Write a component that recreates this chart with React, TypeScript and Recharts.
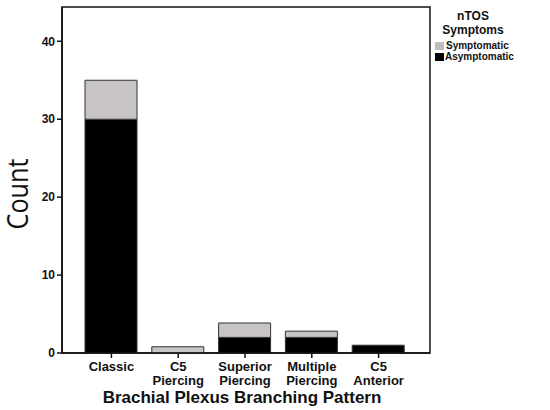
import React from 'react';
import * as RC from 'recharts';
import { BarChart, Bar, XAxis, YAxis, Legend } from 'recharts';

const categories = ['Classic', 'C5\nPiercing', 'Superior\nPiercing', 'Multiple\nPiercing', 'C5\nAnterior'];
const asymptomatic = [30, 0, 2, 2, 1];
const symptomatic = [5, 0.8, 1.85, 0.8, 0];
const yTicks = [0, 10, 20, 30, 40];

const data = categories.map((c, i) => ({ name: c, asym: asymptomatic[i], sym: symptomatic[i] }));

const FONT = '"Liberation Sans", Arial, sans-serif';
const SYM_COLOR = '#c8c4c3';

const XTick = (props: any) => {
  const { x, y, payload } = props;
  const lines = String(payload.value).split('\n');
  return (
    <g transform={`translate(${x},${y})`}>
      <text textAnchor="middle" fontFamily={FONT} fontWeight="bold" fontSize={13} fill="#111">
        {lines.map((l, i) => (
          <tspan key={i} x={0} dy={i === 0 ? 11 : 14}>{l}</tspan>
        ))}
      </text>
    </g>
  );
};

const Frame = () => {
  const usePA = (RC as any).usePlotArea;
  const area = usePA ? usePA() : null;
  if (!area) return null;
  return (
    <rect x={area.x} y={area.y} width={area.width} height={area.height} fill="none" stroke="#111" strokeWidth={1.5} />
  );
};

const LegendContent = () => (
  <div style={{ fontFamily: FONT, fontWeight: 'bold', color: '#111', width: 115 }}>
    <div style={{ textAlign: 'center', fontSize: 12, lineHeight: '14px', width: 76 }}>nTOS<br />Symptoms</div>
    <div style={{ display: 'flex', alignItems: 'center', fontSize: 10, height: 11, marginTop: 3 }}>
      <span style={{ display: 'inline-block', width: 9, height: 8, background: '#bdbdbd', marginRight: 2 }} />
      Symptomatic
    </div>
    <div style={{ display: 'flex', alignItems: 'center', fontSize: 10, height: 11 }}>
      <span style={{ display: 'inline-block', width: 9, height: 8, background: '#000', marginRight: 1 }} />
      Asymptomatic
    </div>
  </div>
);

export default function App() {
  return (
    <div style={{ position: 'absolute', left: 0, top: 0, background: '#fff' }}>
      <BarChart width={550} height={410} data={data} margin={{ top: 7, right: 120, left: 0, bottom: 0 }}>
        <Frame />
        <XAxis
          dataKey="name"
          height={57}
          padding={{ left: 16, right: 18 }}
          axisLine={{ stroke: '#111', strokeWidth: 1.5 }}
          tickLine={{ stroke: '#111', strokeWidth: 1.5 }}
          tickSize={5}
          tick={<XTick />}
          interval={0}
          label={{
            content: () => (
              <text x={242} y={403} textAnchor="middle" fontFamily={FONT} fontWeight="bold" fontSize={17} fill="#111">
                Brachial Plexus Branching Pattern
              </text>
            ),
          }}
        />
        <YAxis
          width={62}
          domain={[0, 44.4]}
          ticks={yTicks}
          allowDataOverflow
          axisLine={{ stroke: '#111', strokeWidth: 1.5 }}
          tickLine={{ stroke: '#111', strokeWidth: 1.5 }}
          tickSize={5}
          tickMargin={2}
          tick={{ fontFamily: FONT, fontWeight: 'bold', fontSize: 12, fill: '#111' }}
          label={{
            content: () => (
              <text x={28} y={194} transform="rotate(-90, 28, 194)" textAnchor="middle" fontFamily='"Open Sans", sans-serif' fontSize={30} fill="#111" textLength={71} lengthAdjust="spacingAndGlyphs">
                Count
              </text>
            ),
          }}
        />
        <Legend
          layout="horizontal"
          verticalAlign="middle"
          align="center"
          content={<LegendContent />}
          wrapperStyle={{ position: 'absolute', left: 435, top: 9, width: 115 }}
        />
        <Bar dataKey="asym" name="Asymptomatic" stackId="a" fill="#000" stroke="#333" strokeWidth={1} barSize={52} isAnimationActive={false} />
        <Bar dataKey="sym" name="Symptomatic" stackId="a" fill={SYM_COLOR} stroke="#333" strokeWidth={1} barSize={52} isAnimationActive={false} />
      </BarChart>
    </div>
  );
}
